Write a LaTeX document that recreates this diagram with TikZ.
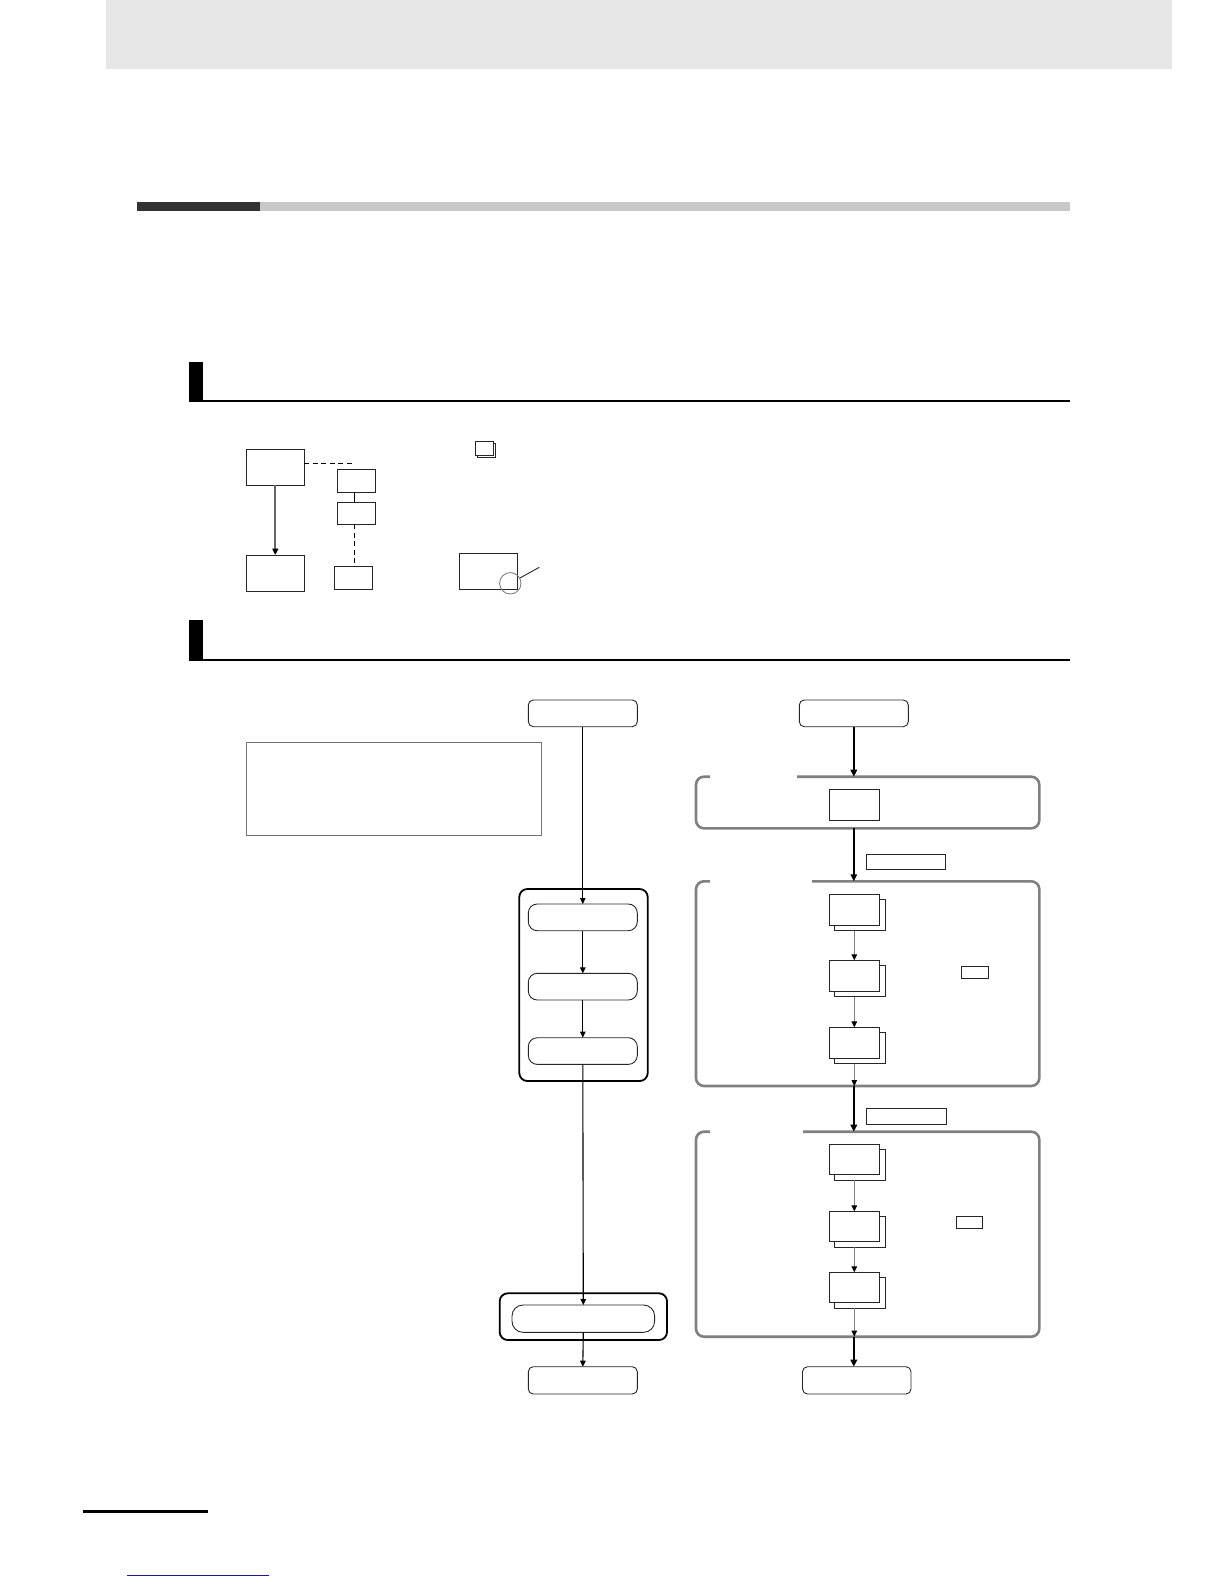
\documentclass[tikz,border=0pt]{standalone}
\usetikzlibrary{arrows.meta}
\definecolor{hdr}{HTML}{E6E6E6}
\definecolor{bardark}{HTML}{333333}
\definecolor{barlight}{HTML}{C8C8C8}
\definecolor{grp}{HTML}{808080}
\definecolor{lnk}{HTML}{1A1A99}
\begin{document}
\begin{tikzpicture}[x=1pt,y=-1pt,
  ghost/.style={inner sep=0pt, outer sep=0pt, anchor=north west, draw=none},
  plainbox/.style={draw=black!85, line width=0.9pt, inner sep=0pt, outer sep=0pt, anchor=north west},
  term/.style={plainbox, rounded corners=5pt},
  pill/.style={plainbox, rounded corners=9pt},
  grpbox/.style={plainbox, draw=black, line width=1.8pt, rounded corners=8pt},
  grpline/.style={draw=grp, line width=2.6pt, rounded corners=8pt},
  bigarr/.style={draw=black, line width=2pt, -{Triangle[length=7pt,width=6.5pt]}},
  thinarr/.style={draw=black, line width=1.1pt, -{Triangle[length=6pt,width=5.5pt]}},
  grayarr/.style={draw=grp, line width=1.1pt, -{Triangle[length=6pt,width=5.5pt,color=black]}},
  fatgray/.style={draw=grp!80!black, line width=2.2pt, -{Triangle[length=6.5pt,width=6pt,color=black]}},
  dsh/.style={draw=black, line width=0.9pt, dash pattern=on 5pt off 3.5pt}
]
\useasboundingbox (0,0) rectangle (1224,1584);
\fill[white] (0,0) rectangle (1224,1584);

% ---------- page furniture ----------
\node[ghost, fill=hdr, minimum width=1066pt, minimum height=69pt] (hdr) at (106,0) {};
\node[ghost, fill=bardark, minimum width=123pt, minimum height=8.5pt] (secd) at (137,202) {};
\node[ghost, fill=barlight, minimum width=810pt, minimum height=8.5pt] (secl) at (260,202) {};
\node[ghost, fill=black, minimum width=14pt, minimum height=39.5pt] (subabar) at (189,362) {};
\node[ghost, fill=black, minimum width=881pt, minimum height=2.2pt] (subaline) at (189,399.5) {};
\node[ghost, fill=black, minimum width=14pt, minimum height=40pt] (subbbar) at (189,620) {};
\node[ghost, fill=black, minimum width=881pt, minimum height=2.2pt] (subbline) at (189,658.5) {};
\node[ghost, fill=black, minimum width=125pt, minimum height=2.7pt] (foot) at (82.7,1510.3) {};
\node[ghost, fill=lnk, minimum width=141.7pt, minimum height=1.6pt] (flink) at (127.3,1574.5) {};

% ---------- legend section ----------
\node[plainbox, minimum width=58pt, minimum height=36pt] (A) at (246.3,449.3) {};
\node[plainbox, minimum width=58pt, minimum height=36.3pt] (E) at (246.3,555) {};
\node[plainbox, minimum width=38pt, minimum height=23pt] (B) at (337.3,469.3) {};
\node[plainbox, minimum width=38pt, minimum height=22pt] (C) at (337.3,502.3) {};
\node[plainbox, minimum width=38pt, minimum height=23.3pt] (D) at (334.3,566) {};
\node[plainbox, minimum width=18.3pt, minimum height=14pt] (icb) at (477.5,443.5) {};
\node[plainbox, fill=white, minimum width=18.3pt, minimum height=14pt] (icf) at (475.3,441.3) {};
\node[plainbox, minimum width=58pt, minimum height=36pt] (F) at (459.3,553.3) {};
\node[circle, draw=grp, line width=0.9pt, minimum size=21.4pt, inner sep=0pt] (circ) at (510.3,583.3) {};
\coordinate (ptr) at (539.3,567.3);
\coordinate (dshend) at (354,463);

\draw[fatgray] (A.south) -- (E.north);
\draw[dsh] (A.east |- dshend) -- (dshend);
\draw[draw=black, line width=0.9pt] (B.south -| dshend) -- (C.north -| dshend);
\draw[dsh] (C.south -| dshend) -- (D.north -| dshend);
\draw[draw=black!85, line width=0.9pt] (circ) -- (ptr);

% ---------- flow: left column ----------
\node[term, minimum width=109pt, minimum height=26.7pt] (startL) at (528.3,700) {};
\node[plainbox, draw=black!55, line width=0.8pt, minimum width=295pt, minimum height=93pt] (note) at (246.4,742.3) {};
\node[grpbox, minimum width=128.4pt, minimum height=192pt] (grpL) at (519.3,889) {};
\node[pill, minimum width=109pt, minimum height=26.7pt] (inA) at (528.3,904) {};
\node[pill, minimum width=109pt, minimum height=26.7pt] (inB) at (528.3,973.3) {};
\node[pill, minimum width=109pt, minimum height=26.7pt] (inC) at (528.3,1037.7) {};
\node[grpbox, minimum width=167.3pt, minimum height=46.7pt] (grpM) at (499.7,1293.3) {};
\node[pill, rounded corners=11pt, minimum width=142.6pt, minimum height=27.3pt] (inM) at (512,1305) {};
\node[term, minimum width=109pt, minimum height=27.3pt] (endL) at (528.3,1366.7) {};

\draw[thinarr] (startL.south) -- (inA.north);
\draw[thinarr] (inA.south) -- (inB.north);
\draw[thinarr] (inB.south) -- (inC.north);
\draw[thinarr] (inC.south) -- (inM.north);
\draw[thinarr] (inM.south) -- (endL.north);

% ---------- flow: right column ----------
\node[term, minimum width=109pt, minimum height=26.7pt] (startR) at (799.3,700) {};
\node[term, minimum width=108.5pt, minimum height=27.3pt] (endR) at (802.5,1366.7) {};

% group 1
\node[ghost, minimum width=343.3pt, minimum height=51.6pt] (GA) at (696,776.7) {};
\coordinate (gaL) at (710,776.7);
\coordinate (gaR) at (797,776.7);
\draw[grpline] (gaR) -- (GA.north east) -- (GA.south east) -- (GA.south west) -- (GA.north west) -- (gaL);
\node[plainbox, minimum width=50pt, minimum height=31pt] (boxA) at (829.3,789.3) {};
\node[plainbox, minimum width=79.4pt, minimum height=15.3pt] (labA) at (866.3,854) {};

% group 2
\node[ghost, minimum width=343.3pt, minimum height=204.7pt] (GB) at (696,881.3) {};
\coordinate (gbL) at (710,881.3);
\coordinate (gbR) at (812,881.3);
\draw[grpline] (gbR) -- (GB.north east) -- (GB.south east) -- (GB.south west) -- (GB.north west) -- (gbL);
\node[plainbox, minimum width=50.5pt, minimum height=31pt] (SAb) at (834.8,899.8) {};
\node[plainbox, fill=white, minimum width=50pt, minimum height=31pt] (SAf) at (829.3,894.3) {};
\node[plainbox, minimum width=50.5pt, minimum height=31pt] (SBb) at (834.8,965.8) {};
\node[plainbox, fill=white, minimum width=50pt, minimum height=31pt] (SBf) at (829.3,960.3) {};
\node[plainbox, minimum width=50.5pt, minimum height=31pt] (SCb) at (834.8,1032.8) {};
\node[plainbox, fill=white, minimum width=50pt, minimum height=31pt] (SCf) at (829.3,1027.3) {};
\node[plainbox, minimum width=27.5pt, minimum height=12.5pt] (smB) at (961,966) {};
\node[plainbox, minimum width=79.5pt, minimum height=16pt] (labB) at (866.5,1108.3) {};

% group 3
\node[ghost, minimum width=343.3pt, minimum height=205pt] (GC) at (696,1131.7) {};
\coordinate (gcL) at (710,1131.7);
\coordinate (gcR) at (803,1131.7);
\draw[grpline] (gcR) -- (GC.north east) -- (GC.south east) -- (GC.south west) -- (GC.north west) -- (gcL);
\node[plainbox, minimum width=50.5pt, minimum height=30.5pt] (TAb) at (834.8,1149.8) {};
\node[plainbox, fill=white, minimum width=50pt, minimum height=30.5pt] (TAf) at (829.3,1144.3) {};
\node[plainbox, minimum width=50.5pt, minimum height=30.5pt] (TBb) at (834.8,1216.8) {};
\node[plainbox, fill=white, minimum width=50pt, minimum height=30.5pt] (TBf) at (829.3,1211.3) {};
\node[plainbox, minimum width=50.5pt, minimum height=30.5pt] (TCb) at (834.8,1277.8) {};
\node[plainbox, fill=white, minimum width=50pt, minimum height=30.5pt] (TCf) at (829.3,1272.3) {};
\node[plainbox, minimum width=26pt, minimum height=12pt] (smC) at (956.4,1216.3) {};

% thick arrows
\draw[bigarr] (startR.south) -- (startR.south |- GA.north);
\draw[bigarr] (startR.south |- GA.south) -- (startR.south |- GB.north);
\draw[bigarr] (startR.south |- GB.south) -- (startR.south |- GC.north);
\draw[bigarr] (startR.south |- GC.south) -- (startR.south |- endR.north);

% thin arrows inside groups
\draw[grayarr] (SAf |- SAb.south) -- (SBf.north);
\draw[grayarr] (SBf |- SBb.south) -- (SCf.north);
\draw[grayarr] (SCf |- SCb.south) -- (SCf |- GB.south);
\draw[grayarr] (TAf |- TAb.south) -- (TBf.north);
\draw[grayarr] (TBf |- TBb.south) -- (TCf.north);
\draw[grayarr] (TCf |- TCb.south) -- (TCf |- GC.south);
\end{tikzpicture}
\end{document}
